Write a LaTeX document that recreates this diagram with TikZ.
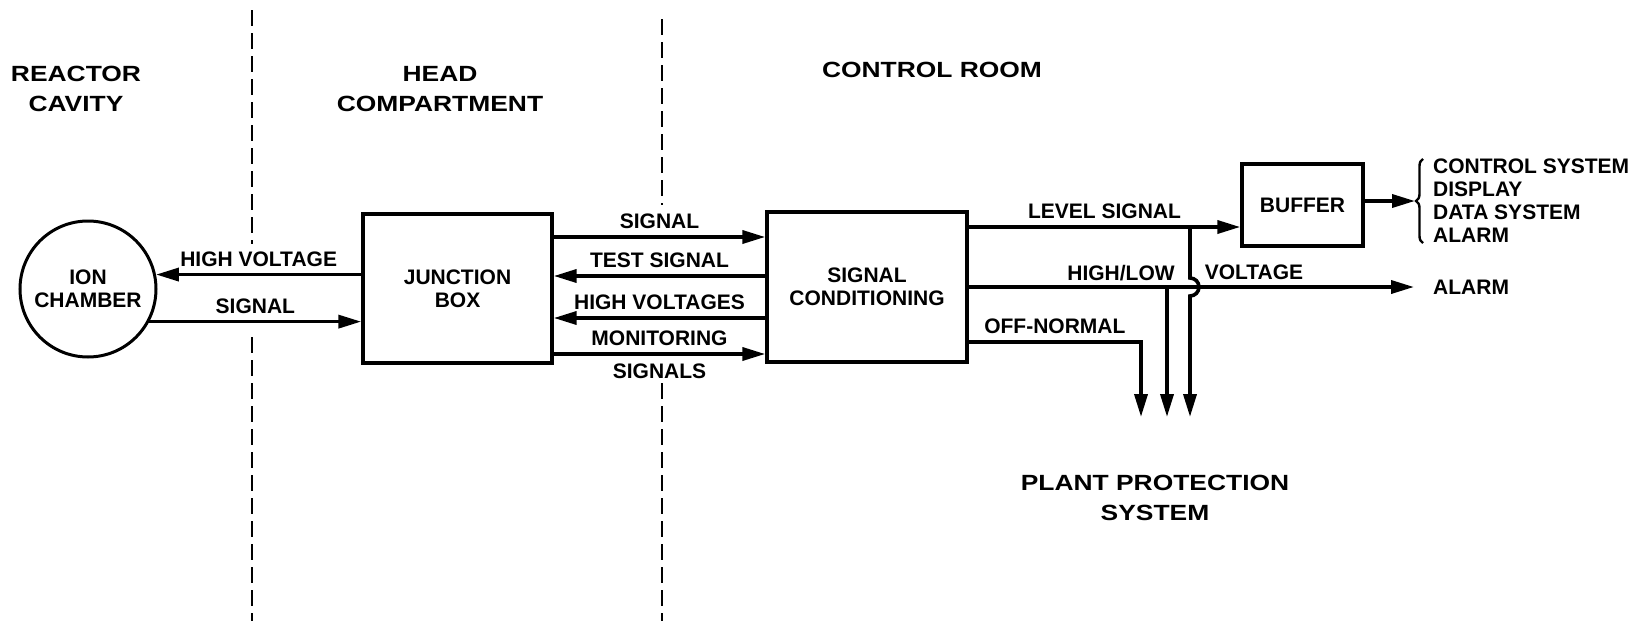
\documentclass[tikz,border=0pt]{standalone}
\usepackage{fontspec}
\setmainfont{Liberation Sans}
\newfontfamily\headfont{Liberation Sans}[FakeStretch=1.2]
\newcommand\lblfont{\bfseries\fontsize{21}{23}\selectfont}
\usetikzlibrary{arrows.meta,positioning,decorations.pathreplacing}

\begin{document}
\begin{tikzpicture}[
    x=1pt, y=-1pt,
    box/.style={draw, line width=3.4pt, font=\lblfont, align=center, inner sep=0pt},
    lbl/.style={font=\lblfont, inner sep=2pt},
    head/.style={font=\headfont\bfseries\fontsize{22}{30}\selectfont, align=center},
    arr/.style={-{Triangle[length=23pt,width=13pt]}, line width=3.6pt},
    zone/.style={line width=2.6pt, dash pattern=on 16pt off 7pt}
    ]
    \useasboundingbox (0,0) rectangle (1647,621);
    % zone borders
    \draw[zone] (252,10) -- (252,244);
    \draw[zone] (252,337) -- (252,621);
    \draw[zone] (662,19) -- (662,205);
    \draw[zone] (662,383) -- (662,621);
    \node[head] (cavity)  at (76,89)   {REACTOR\\CAVITY};
    \node[head] (compart) at (440,89)  {HEAD\\COMPARTMENT};
    \node[head] (room)    at (932,70)  {CONTROL ROOM};
    \node[head] (pps)     at (1155,498) {PLANT PROTECTION\\SYSTEM};
    % blocks
    \node[draw, circle, line width=3pt, minimum size=136pt, inner sep=0pt,
        font=\lblfont, align=center] (ion) at (88,289) {ION\\CHAMBER};
    \node[box, minimum width=189pt, minimum height=149pt] (jb)     at (457.5,288.5) {JUNCTION\\BOX};
    \node[box, minimum width=200pt, minimum height=150pt] (sc)     at (867,287)     {SIGNAL\\CONDITIONING};
    \node[box, minimum width=121pt, minimum height=82pt]  (buffer) at (1302.5,205)  {BUFFER};
    \node[lbl, anchor=west, align=left] (outs) at (1431,200.5) {CONTROL SYSTEM\\DISPLAY\\DATA SYSTEM\\ALARM};
    \node[lbl, anchor=west] (alarm) at (1431,287) {ALARM};
    \node[lbl] (hilo) at (1121,273) {HIGH/LOW};
    \node[lbl] (volt) at (1254,272) {VOLTAGE};
    % rows and free ends
    \coordinate (rowsig)  at (0,237);
    \coordinate (rowtest) at (0,276);
    \coordinate (rowhv)   at (0,318);
    \coordinate (rowmon)  at (0,354);
    \coordinate (rowlvl)  at (0,227);
    \coordinate (rowoff)  at (0,342);
    \coordinate (lvlbr)   at (1190,227);
    \coordinate (hlbr)    at (1167,287);
    \coordinate (offbend) at (1141,342);
    \coordinate (ppsa)    at (1141,417);
    \coordinate (ppsb)    at (1167,417);
    \coordinate (ppsc)    at (1190,417);
    \coordinate (brtip)   at (1415,201);
    % connectors
    \draw[arr] (jb.west |- ion.12) -- node[lbl, above=4pt] {HIGH VOLTAGE} (ion.12);
    \draw[arr] (ion.-28) -- node[lbl, above=4pt] {SIGNAL} (jb.west |- ion.-28);
    \draw[arr] (jb.east |- rowsig) -- node[lbl, above=4pt] {SIGNAL} (sc.west |- rowsig);
    \draw[arr] (sc.west |- rowtest) -- node[lbl, above=4pt] {TEST SIGNAL} (jb.east |- rowtest);
    \draw[arr] (sc.west |- rowhv) -- node[lbl, above=4pt] {HIGH VOLTAGES} (jb.east |- rowhv);
    \draw[arr] (jb.east |- rowmon) -- node[lbl, above=4pt] {MONITORING}
        node[lbl, below=6pt] {SIGNALS} (sc.west |- rowmon);
    \draw[arr] (sc.east |- rowlvl) -- node[lbl, above=4pt] {LEVEL SIGNAL} (buffer.west |- rowlvl);
    \draw[arr, shorten >=17pt] (sc.east) -- (alarm.west);
    \draw[arr] (sc.east |- rowoff) -- node[lbl, above=4pt] {OFF-NORMAL} (offbend) -- (ppsa);
    \draw[arr] (hlbr) -- (ppsb);
    \draw[arr] (lvlbr) -- (1190,278) arc[start angle=-90, end angle=90, radius=9] -- (ppsc);
    \draw[arr] (buffer.east |- brtip) -- (brtip);
    \draw[line width=2.4pt, decorate, decoration={brace, amplitude=7pt}] (1423,243) -- (1423,159);
\end{tikzpicture}
\end{document}
